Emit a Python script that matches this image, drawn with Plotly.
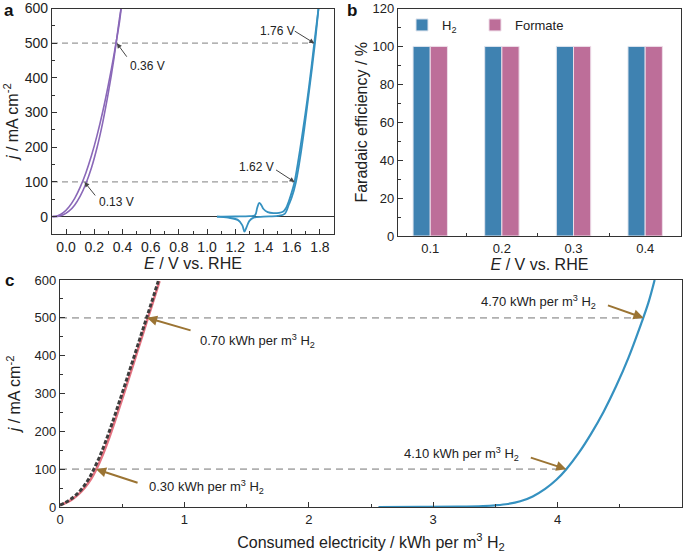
import plotly.graph_objects as go

W, H = 685, 553

# ---------------- Panel a data ----------------
a_purple_fwd_x = [-0.097, -0.06, -0.02, 0.02, 0.06, 0.10, 0.14, 0.18, 0.22, 0.26, 0.30, 0.34, 0.38, 0.39]
a_purple_fwd_y = [0, 2.6, 11.6, 28, 52, 85, 126, 176, 235, 303, 381, 468, 565, 600]
a_purple_bwd_x = [-0.097, -0.06, -0.02, 0.02, 0.06, 0.10, 0.14, 0.18, 0.22, 0.26, 0.30, 0.34, 0.38, 0.39]
a_purple_bwd_y = [0, 0.9, 5.4, 15.6, 33, 59, 95, 141, 200, 272, 358, 458, 575, 600]

a_blue_fwd_x = [1.07, 1.2, 1.3, 1.34, 1.355, 1.37, 1.385, 1.40, 1.43, 1.47, 1.51, 1.54, 1.56, 1.58, 1.60, 1.62, 1.65, 1.68, 1.71, 1.735, 1.76, 1.79]
a_blue_fwd_y = [0, 0.5, 1.5, 4, 25, 40, 33, 22, 13, 10, 11, 15, 25, 45, 70, 100, 170, 250, 335, 415, 500, 600]
a_blue_bwd_x = [1.79, 1.765, 1.74, 1.715, 1.69, 1.66, 1.63, 1.60, 1.58, 1.55, 1.50, 1.40, 1.33, 1.30, 1.28, 1.265, 1.25, 1.22, 1.15, 1.07]
a_blue_bwd_y = [600, 500, 415, 335, 255, 170, 100, 55, 35, 8, 2, 0, -3, -12, -30, -43, -25, -10, -3, 0]

a_levels = [100, 500]
a_left_cross = [0.13, 0.36]
a_right_cross = [1.62, 1.76]
a_left_labels = ["0.13 V", "0.36 V"]
a_right_labels = ["1.62 V", "1.76 V"]

# ---------------- Panel b data ----------------
b_potentials = [0.1, 0.2, 0.3, 0.4]
b_tick_labels = ["0.1", "0.2", "0.3", "0.4"]
b_fe_h2 = [100, 100, 100, 100]
b_fe_formate = [100, 100, 100, 100]

# ---------------- Panel c data ----------------
c_pink_x = [0, 0.05, 0.1, 0.15, 0.2, 0.25, 0.29, 0.34, 0.39, 0.44, 0.49, 0.54, 0.59, 0.64, 0.69, 0.74, 0.80]
c_pink_y = [5, 11.5, 21, 34, 51.5, 74.5, 98.5, 135.5, 178.5, 226, 276, 327, 378.5, 430.5, 482.5, 534.5, 597]
c_dash_x = [0, 0.04, 0.088, 0.136, 0.184, 0.232, 0.27, 0.322, 0.373, 0.424, 0.475, 0.526, 0.577, 0.628, 0.679, 0.73, 0.79]
c_dash_y = [5, 11.5, 21, 34, 51.5, 74.5, 98.5, 135.5, 178.5, 226, 276, 327, 378.5, 430.5, 482.5, 534.5, 597]
c_blue_x = [2.56, 2.9, 3.2, 3.4, 3.5, 3.6, 3.7, 3.8, 3.9, 3.99, 4.07, 4.17, 4.27, 4.37, 4.47, 4.57, 4.67, 4.73, 4.78]
c_blue_y = [0, 0.3, 1, 2.5, 4.5, 8, 15, 28, 48, 72, 100, 143, 194, 252, 319, 395, 483, 540, 600]

c_levels = [100, 500]
c_left_cross = [0.29, 0.70]
c_right_cross = [4.07, 4.69]
c_left_labels = ["0.30 kWh per m<sup>3</sup> H<sub>2</sub>", "0.70 kWh per m<sup>3</sup> H<sub>2</sub>"]
c_right_labels = ["4.10 kWh per m<sup>3</sup> H<sub>2</sub>", "4.70 kWh per m<sup>3</sup> H<sub>2</sub>"]

FONT = "Arial, Liberation Sans, sans-serif"
AX = "#333333"
PURPLE = "#8a68b8"
BLUE = "#3591c0"
BAR_BLUE = "#3f82b1"
BAR_PINK = "#bd6e99"
PINK = "#e57381"
DASHC = "#3d3d3d"
GRAYD = "#9a9a9a"
BROWN = "#9b7433"


def dom(x0, x1, y0, y1):
    return [x0 / W, x1 / W], [1 - y1 / H, 1 - y0 / H]


ax_dx, ax_dy = dom(52, 334, 8.5, 234)
bx_dx, bx_dy = dom(398, 681, 8.5, 236)
cx_dx, cx_dy = dom(60, 682, 280, 507)

fig = go.Figure()

# ---- panel a traces ----
for lv, xr in zip(a_levels, a_right_cross):
    fig.add_trace(go.Scatter(x=[-0.1, xr], y=[lv, lv], mode="lines", xaxis="x", yaxis="y",
                             line=dict(color=GRAYD, width=1.2, dash="6px,4px"), showlegend=False, hoverinfo="skip"))
fig.add_trace(go.Scatter(x=a_purple_fwd_x, y=a_purple_fwd_y, mode="lines", xaxis="x", yaxis="y",
                         line=dict(color=PURPLE, width=1.6, shape="spline"), showlegend=False))
fig.add_trace(go.Scatter(x=a_purple_bwd_x, y=a_purple_bwd_y, mode="lines", xaxis="x", yaxis="y",
                         line=dict(color=PURPLE, width=1.6, shape="spline"), showlegend=False))
fig.add_trace(go.Scatter(x=a_blue_fwd_x, y=a_blue_fwd_y, mode="lines", xaxis="x", yaxis="y",
                         line=dict(color=BLUE, width=1.8, shape="spline"), showlegend=False))
fig.add_trace(go.Scatter(x=a_blue_bwd_x, y=a_blue_bwd_y, mode="lines", xaxis="x", yaxis="y",
                         line=dict(color=BLUE, width=1.8, shape="spline"), showlegend=False))

# ---- panel b bars ----
fig.add_trace(go.Bar(x=b_potentials, y=b_fe_h2, name="H<sub>2</sub>", xaxis="x2", yaxis="y2",
                     marker=dict(color=BAR_BLUE, line=dict(color="#dfe4ee", width=1)), offsetgroup="h2",
                     legend="legend"))
fig.add_trace(go.Bar(x=b_potentials, y=b_fe_formate, name="Formate", xaxis="x2", yaxis="y2",
                     marker=dict(color=BAR_PINK, line=dict(color="#eedde8", width=1)), offsetgroup="fo",
                     legend="legend2"))

# ---- panel c traces ----
for lv, xr in zip(c_levels, c_right_cross):
    fig.add_trace(go.Scatter(x=[0, xr], y=[lv, lv], mode="lines", xaxis="x3", yaxis="y3",
                             line=dict(color="#b0b0b0", width=1.8, dash="7px,5px"), showlegend=False, hoverinfo="skip"))
fig.add_trace(go.Scatter(x=c_pink_x, y=c_pink_y, mode="lines", xaxis="x3", yaxis="y3",
                         line=dict(color=PINK, width=2.6, shape="spline"), showlegend=False))
fig.add_trace(go.Scatter(x=c_dash_x, y=c_dash_y, mode="lines", xaxis="x3", yaxis="y3",
                         line=dict(color=DASHC, width=3, dash="4px,2px", shape="spline"), showlegend=False))
fig.add_trace(go.Scatter(x=c_blue_x, y=c_blue_y, mode="lines", xaxis="x3", yaxis="y3",
                         line=dict(color=BLUE, width=2.2, shape="spline"), showlegend=False))

titlefont = dict(family=FONT, size=16, color="#222")


def axis_common(fs=14, **kw):
    d = dict(showline=True, linecolor=AX, linewidth=1.2, mirror=True, ticks="inside", ticklen=5,
             tickcolor=AX, tickwidth=1, showgrid=False, zeroline=False,
             tickfont=dict(family=FONT, size=fs, color="#222"), automargin=False)
    d.update(kw)
    return d


annotations = []
# panel a arrows + labels (pixel offsets)
a_left_arrow = [(12, 15), (11, 15)]
a_left_text = [(32, 20), (31, 23)]
a_right_arrow = [(-20, -13), (-21, -13)]
a_right_text = [(-38, -15), (-37, -12)]
for lv, xv, lab, (adx, ady), (tdx, tdy) in zip(a_levels, a_left_cross, a_left_labels, a_left_arrow, a_left_text):
    annotations.append(dict(x=xv, y=lv, xref="x", yref="y", ax=adx, ay=ady, text="", showarrow=True,
                            arrowhead=2, arrowsize=1, arrowwidth=1, arrowcolor="#444"))
    annotations.append(dict(x=xv, y=lv, xref="x", yref="y", xshift=tdx, yshift=-tdy, text=lab, showarrow=False,
                            font=dict(family=FONT, size=12, color="#222")))
for lv, xv, lab, (adx, ady), (tdx, tdy) in zip(a_levels, a_right_cross, a_right_labels, a_right_arrow, a_right_text):
    annotations.append(dict(x=xv, y=lv, xref="x", yref="y", ax=adx, ay=ady, text="", showarrow=True,
                            arrowhead=2, arrowsize=1, arrowwidth=1, arrowcolor="#444"))
    annotations.append(dict(x=xv, y=lv, xref="x", yref="y", xshift=tdx, yshift=-tdy, text=lab, showarrow=False,
                            font=dict(family=FONT, size=12, color="#222")))

# panel c arrows + labels
c_left_arrow = [(43, 14), (45, 13)]
c_left_text = [(110, 18), (110, 23)]
c_right_arrow = [(-37, -12), (-37, -13)]
c_right_text = [(-105, -15), (-105, -16)]
for lv, xv, lab, (adx, ady), (tdx, tdy) in zip(c_levels, c_left_cross, c_left_labels, c_left_arrow, c_left_text):
    annotations.append(dict(x=xv, y=lv, xref="x3", yref="y3", ax=adx, ay=ady, text="", showarrow=True,
                            arrowhead=2, arrowsize=1, arrowwidth=2, arrowcolor=BROWN))
    annotations.append(dict(x=xv, y=lv, xref="x3", yref="y3", xshift=tdx, yshift=-tdy, text=lab, showarrow=False,
                            font=dict(family=FONT, size=13, color="#222")))
for lv, xv, lab, (adx, ady), (tdx, tdy) in zip(c_levels, c_right_cross, c_right_labels, c_right_arrow, c_right_text):
    annotations.append(dict(x=xv, y=lv, xref="x3", yref="y3", ax=adx, ay=ady, text="", showarrow=True,
                            arrowhead=2, arrowsize=1, arrowwidth=2, arrowcolor=BROWN))
    annotations.append(dict(x=xv, y=lv, xref="x3", yref="y3", xshift=tdx, yshift=-tdy, text=lab, showarrow=False,
                            font=dict(family=FONT, size=13, color="#222")))

# panel letters
for letter, px, py in [("a", 9, 0), ("b", 352, 0), ("c", 9, 270)]:
    annotations.append(dict(x=px / W, y=1 - py / H, xref="paper", yref="paper", text="<b>%s</b>" % letter,
                            showarrow=False, xanchor="center", yanchor="top", yshift=1,
                            font=dict(family=FONT, size=17, color="#111")))

leg_common = dict(orientation="h", xanchor="left", yanchor="top", bgcolor="rgba(0,0,0,0)",
                  font=dict(family=FONT, size=13, color="#222"), itemwidth=30)

fig.update_layout(
    width=W, height=H, margin=dict(l=0, r=0, t=0, b=0),
    paper_bgcolor="white", plot_bgcolor="white",
    font=dict(family=FONT, color="#222"),
    barmode="group", bargap=0.52, bargroupgap=0,
    xaxis=axis_common(14, domain=ax_dx, anchor="y", range=[-0.1, 1.9], dtick=0.2, tick0=0, tickformat=".1f",
                      minor=dict(ticks="inside", ticklen=3, dtick=0.1, tick0=0, tickcolor=AX),
                      title=dict(text="<i>E</i> / V vs. RHE", font=titlefont, standoff=0)),
    yaxis=axis_common(14, domain=ax_dy, anchor="x", range=[-50, 600], dtick=100, tick0=0,
                      zeroline=True, zerolinecolor=AX, zerolinewidth=1.2,
                      minor=dict(ticks="inside", ticklen=3, dtick=50, tick0=0, tickcolor=AX),
                      title=dict(text="<i>j</i> / mA cm<sup>-2</sup>", font=titlefont, standoff=2)),
    xaxis2=axis_common(13, domain=bx_dx, anchor="y2", range=[0.055, 0.45], tickvals=b_potentials,
                       ticktext=b_tick_labels, ticks="",
                       minor=dict(ticks="inside", ticklen=3, tickvals=[0.15, 0.25, 0.35], tickcolor=AX),
                       title=dict(text="<i>E</i> / V vs. RHE", font=titlefont, standoff=0)),
    yaxis2=axis_common(13, domain=bx_dy, anchor="x2", range=[0, 120], dtick=20, tick0=0,
                       minor=dict(ticks="inside", ticklen=3, dtick=10, tick0=0, tickcolor=AX),
                       title=dict(text="Faradaic efficiency / %", font=titlefont, standoff=0)),
    xaxis3=axis_common(13, domain=cx_dx, anchor="y3", range=[0, 5], dtick=1, tick0=0,
                       minor=dict(ticks="inside", ticklen=3, dtick=0.5, tick0=0, tickcolor=AX),
                       title=dict(text="Consumed electricity / kWh per m<sup>3</sup> H<sub>2</sub>", font=titlefont, standoff=14)),
    yaxis3=axis_common(13, domain=cx_dy, anchor="x3", range=[0, 600], dtick=100, tick0=0,
                       minor=dict(ticks="inside", ticklen=3, dtick=50, tick0=0, tickcolor=AX),
                       title=dict(text="<i>j</i> / mA cm<sup>-2</sup>", font=titlefont, standoff=9)),
    legend=dict(x=402 / W, y=1 - 10 / H, **leg_common),
    legend2=dict(x=475 / W, y=1 - 10 / H, **leg_common),
    annotations=annotations,
)

fig.write_html("out.html", config={"displayModeBar": False},
               post_script="document.body.style.margin='0';document.body.style.overflow='hidden';")
